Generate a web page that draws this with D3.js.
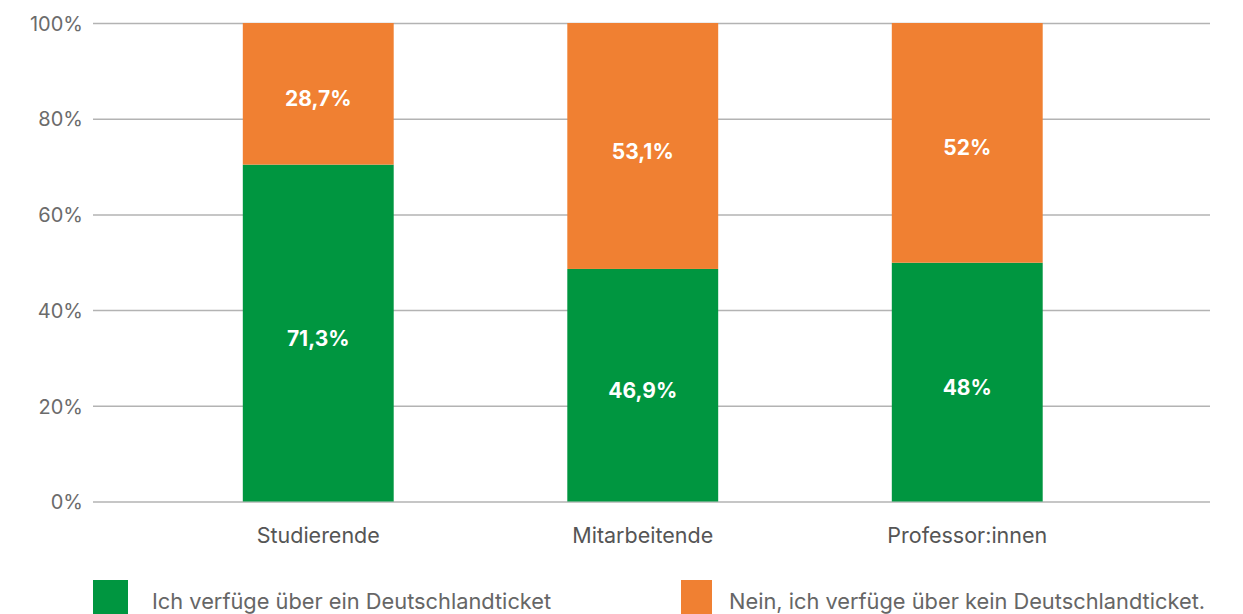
<!DOCTYPE html>
<html>
<head>
<meta charset="utf-8">
<script src="https://cdn.jsdelivr.net/npm/d3@7"></script>
<style>
  html, body { margin: 0; padding: 0; background: #fff; }
  svg { display: block; font-family: Inter, "Liberation Sans", sans-serif; }
</style>
</head>
<body>
<svg id="chart" width="1243" height="614"></svg>
<script>
// ---- data ----
const categories = ["Studierende", "Mitarbeitende", "Professor:innen"];
const seriesNames = ["Ich verfüge über ein Deutschlandticket", "Nein, ich verfüge über kein Deutschlandticket."];
// bar heights as drawn in the reference (percent)
const yesValues = [70.4, 48.6, 49.9];
const noValues  = [29.6, 51.4, 50.1];
// value labels as printed
const yesLabels = ["71,3%", "46,9%", "48%"];
const noLabels  = ["28,7%", "53,1%", "52%"];
const yTicks = [0, 20, 40, 60, 80, 100];
const colors = ["#009640", "#F08032"];

// ---- layout ----
const svg = d3.select("#chart");
const gridLeft = 93, gridRight = 1210;
const y = d3.scaleLinear().domain([0, 100]).range([501.5, 23]);
const x = d3.scaleBand().domain(categories).range([156, 1129.5])
  .paddingInner(0.535).paddingOuter(0.2675);

// gridlines + tick labels
const yAxis = d3.axisLeft(y).tickValues(yTicks).tickFormat(d => d + "%")
  .tickSize(-(gridRight - gridLeft)).tickPadding(10);
const gy = svg.append("g").attr("transform", `translate(${gridLeft},0)`).call(yAxis);
gy.select(".domain").remove();
gy.attr("font-size", null).attr("font-family", null);
gy.selectAll(".tick line").attr("stroke", "#b3b3b3").attr("stroke-width", 1.5);
gy.selectAll(".tick text").attr("fill", "#6b6b6b").style("font-size", "20px")
  .attr("dy", "0.36em");

// stacked data
const rows = categories.map((c, i) => ({ cat: c, yes: yesValues[i], no: noValues[i], i }));
const stack = d3.stack().keys(["yes", "no"])(rows);
const labels = { yes: yesLabels, no: noLabels };

const layers = svg.append("g").selectAll("g").data(stack).join("g")
  .attr("fill", (d, i) => colors[i]);
layers.selectAll("rect").data(d => d).join("rect")
  .attr("x", d => x(d.data.cat))
  .attr("width", x.bandwidth())
  .attr("y", d => y(d[1]))
  .attr("height", d => y(d[0]) - y(d[1]));

// value labels
stack.forEach(layer => {
  svg.append("g").selectAll("text").data(layer).join("text")
    .attr("x", d => x(d.data.cat) + x.bandwidth() / 2)
    .attr("y", d => y((d[0] + d[1]) / 2) + 5)
    .attr("dy", "0.36em")
    .attr("text-anchor", "middle")
    .attr("fill", "#fff")
    .style("font-size", "21px")
    .style("font-weight", "700")
    .text(d => labels[layer.key][d.data.i]);
});

// category axis labels
const xAxis = d3.axisBottom(x).tickSize(0).tickPadding(0);
const gx = svg.append("g").attr("transform", `translate(0,${y(0)})`).call(xAxis);
gx.select(".domain").remove();
gx.attr("font-size", null).attr("font-family", null);
gx.selectAll(".tick text").attr("fill", "#555")
  .attr("font-size", "21.5px").style("font-size", "21.5px")
  .attr("dy", "0").attr("y", 41);

// legend
const legendX = [93, 681];
const lg = svg.append("g").selectAll("g").data(seriesNames).join("g")
  .attr("transform", (d, i) => `translate(${legendX[i]},580)`);
lg.append("rect").attr("width", (d, i) => i === 0 ? 35 : 31).attr("height", 40)
  .attr("fill", (d, i) => colors[i]);
lg.append("text").attr("x", (d, i) => i === 0 ? 59 : 48).attr("y", 29)
  .attr("fill", "#666").style("font-size", "21.8px").text(d => d);
</script>
</body>
</html>
